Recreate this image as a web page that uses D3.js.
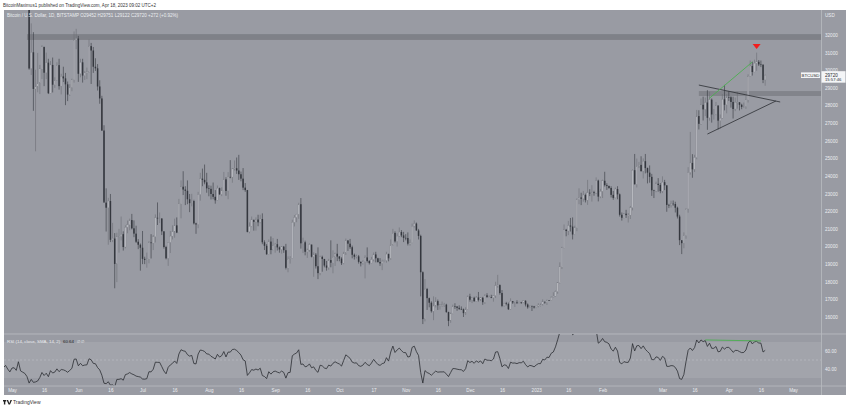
<!DOCTYPE html>
<html><head><meta charset="utf-8">
<script src="https://cdn.jsdelivr.net/npm/d3@7/dist/d3.min.js"></script>
<style>
html,body{margin:0;padding:0;background:#fff;}
svg{display:block;font-family:"Liberation Sans",Arial,sans-serif;}
</style></head>
<body>
<svg id="c" width="850" height="409"></svg>
<script>
// ---------------- DATA ----------------
// Closes before the first visible candle (used only to warm up the RSI), from 2022-03-01
const warmupStart = "2022-03-01";
const warmupCloses = [
44400,43900,42450,39150,39400,38400,38000,38740,41940,39420,38730,38810,37790,39670,39280,41120,40920,41760,42200,41260,41000,42360,42890,43960,44350,44500,46820,47130,47450,47060,45530,
46300,45800,46450,46620,45500,43200,43450,42300,42780,42150,39530,40080,41150,39940,40550,40400,39700,40800,41500,41360,40480,39710,39470,39450,40430,38120,39240,39740,38600,37630,
38470,38530,37720,39690,36550,36010,35470,34060
];
// Daily candles BTCUSD (Bitstamp) from 2022-05-09 to 2023-04-18; open = previous close
const candleStart = "2022-05-09";
const closes = [
30100,31020,28940,29050,29280,30080,31330,29860,30430,28700,30300,29180,29430,30290,29100,29650,29540,29200,28620,29030,29470,31720,31800,
29800,30450,29700,29860,29900,31370,31120,30200,30110,29080,28400,26580,22490,22200,22580,20380,20450,19010,20550,20570,20700,19970,21090,21230,21500,21030,20730,20270,20100,19930,
19300,19240,19300,20230,20190,20550,21630,21590,21590,20860,19970,19330,20230,20590,20830,21200,20790,22430,23390,23230,23160,22680,22460,22580,21310,21250,22950,23850,23780,23640,23300,
23270,22980,22820,22620,23310,22960,23170,23810,23150,23950,23940,24400,24440,24310,24100,23850,23340,23200,20830,21140,21520,21400,21530,21370,21560,20240,20040,19560,20280,19800,20050,
20130,19950,19830,19990,19790,18790,19290,19320,21370,21650,21830,22400,20180,20240,19700,19800,20110,19420,19540,18880,18490,19410,19290,18920,18800,19230,19080,19410,19590,19430,
19310,19050,19630,20340,20160,19960,19530,19420,19440,19130,19050,19150,19380,19180,19060,19260,19550,19330,19120,19040,19160,19200,19570,19330,20090,20770,20290,20590,20820,20630,20490,
20480,20160,20210,21150,21300,20910,20600,18540,15880,17590,17070,16810,16330,16620,16900,16660,16690,16690,16700,16280,15780,16190,16610,16600,16520,16460,16440,16220,16440,17170,
16980,17090,16890,17110,16970,17090,16840,17230,17130,17130,17090,17210,17780,17810,17360,16630,16780,16740,16440,16900,16820,16830,16780,16840,16830,16920,16710,16550,16630,16600,16540,
16620,16680,16680,16860,16830,16950,16940,17120,17180,17440,17940,18850,19930,20950,20880,21190,21130,20680,21070,22670,22780,22710,22920,22630,23050,23010,23080,23030,23740,22830,23130,
23730,23480,23430,23320,22930,22760,23260,22960,21800,21630,21860,21780,21780,22200,24330,23530,24570,24630,24280,24840,24450,24190,23950,23190,23160,23560,23490,23140,
23650,23470,22360,22350,22430,22410,22200,21700,20360,20190,20630,22130,24200,24740,24380,25050,27400,26960,28040,27780,28170,27300,28330,27490,27500,28000,27140,27280,28350,28040,28480,
28470,28200,27800,28180,28180,28040,27920,27950,28330,29650,30240,29900,30400,30480,30330,30320,29450,29720
];
const highs = [
34240,32660,32160,30030,30980,30300,31420,31300,31000,30650,30520,30720,29600,30450,30650,29800,30200,29850,29360,29210,29520,32200,32350,
31950,30650,30650,29950,30150,31750,31550,31320,30680,30350,29430,28550,26880,23300,22760,22980,21340,20760,20780,21000,21700,20860,21200,21470,21580,21850,21480,21180,20420,20170,
20880,19420,19650,20300,20700,20650,21820,22500,21930,21600,20860,20040,20250,20880,21200,21580,21650,22700,23750,24270,23420,23750,22980,22990,22650,21350,23100,24180,24420,24650,24180,
23470,23450,23630,23200,23460,23340,23360,24230,23930,24220,24900,24450,24880,25050,25200,24250,24450,23600,23210,21370,21700,21450,21650,21800,21800,21880,20350,20140,20400,20570,20480,
20200,20430,20000,20000,20030,20150,19440,19450,21520,21780,21850,22480,22750,20500,20330,19880,20180,20100,19670,19630,19950,19480,19480,19300,19180,19300,20350,19780,19650,20150,
19460,19390,19700,20450,20360,20430,20050,19600,19540,19520,19150,19220,19500,19950,19220,19410,19660,19700,19360,19340,19250,19250,19700,19600,20400,21000,20860,20750,21080,20930,20830,
20700,20800,20400,21300,21480,21360,21000,20670,18590,18150,17650,17100,16890,17170,17120,16990,16740,16880,16800,16750,16300,16250,16700,16780,16600,16660,16600,16480,16550,17220,
17320,17100,17150,17190,17420,17100,17140,17290,17350,17220,17260,17240,18000,18390,17850,17530,16800,16860,16820,17060,16900,16860,16950,16860,16860,16940,16950,16770,16660,16640,16630,
16630,16780,16770,17000,16880,16990,16960,17170,17400,17500,17980,19100,19980,21250,21000,21450,21620,21650,21180,22730,23300,23050,23150,23000,23780,23250,23480,23160,23920,23790,23270,
23790,24240,23590,23460,23420,23150,23340,23420,23010,21930,21900,22080,21900,22300,24370,25250,24990,24800,25120,25000,25250,24480,24600,24120,23220,23680,23880,23600,
23980,23780,23480,22420,22600,22610,22540,22260,21800,20300,20800,22160,24500,26500,25240,25200,27750,27730,28400,28500,28450,28870,28780,28400,27800,28200,28000,27490,28650,29170,28650,
28800,28530,28500,28450,28770,28190,28100,28170,28530,29770,30550,30480,30600,31000,30580,30550,30320,29751
];
const lows = [
30030,29730,27700,25400,28750,28650,29500,29100,29500,28650,28700,28740,29000,29400,28900,28630,29330,28020,28250,28540,28810,29300,31200,
29340,29600,29300,29450,29500,29880,29220,29850,29960,28850,28100,26560,22600,20850,20100,20250,20250,17630,17980,19650,20350,19770,19900,20750,20920,20970,20530,20200,19850,18630,
19000,19000,18800,19050,19320,19800,20230,21220,21330,20650,19880,19270,18900,19630,20400,20500,20760,20760,21600,22920,22350,22400,21950,22280,21250,20720,21040,22600,23420,23530,23050,
22850,22670,22680,22430,22600,22930,22860,23160,22880,22680,23870,23620,24310,24120,23780,23700,23200,23100,20800,20750,21100,20900,20900,21150,21320,20130,19800,19530,19560,19560,19800,
19650,19770,19650,19600,19640,18700,18540,19030,19300,21140,21380,21570,19880,19630,19500,19350,19700,19380,18280,18750,18150,18370,18570,18820,18630,18680,18820,18480,18900,19170,
19160,18950,19000,19520,19750,19860,19330,19260,19320,19030,18870,18970,18190,19090,18980,19060,19160,19100,19080,18900,18660,19110,19080,19160,19250,20060,20220,20000,20560,20530,20250,
20350,20060,20050,20190,21080,20900,20400,17170,15600,15750,16400,16550,16250,15820,16540,16400,16420,16580,16570,16240,15480,15670,16160,16460,16350,16400,16400,16000,16120,16440,
16870,16790,16880,16880,16880,16910,16690,16740,17090,17090,17070,16870,17080,17660,17270,16560,16590,16660,16400,16400,16740,16570,16760,16790,16740,16790,16600,16470,16510,16340,16480,
16500,16550,16600,16660,16750,16680,16910,16910,17100,17150,17320,17900,18720,19900,20580,20650,20850,20400,20650,20870,22400,22350,22540,22500,22360,22860,22550,22880,22990,22560,22740,
22750,23400,23210,23270,22780,22650,22740,22680,21700,21470,21600,21620,21360,21560,22050,23520,23350,24450,24240,23860,24150,23580,23620,22870,22750,23080,23110,23020,
23030,23200,21970,22180,22210,22310,21930,21590,20080,19570,19900,20440,21920,24080,23900,24230,24950,26640,26900,27150,27400,26620,27140,27030,27200,27450,26640,26670,27250,27720,27560,
28260,27880,27260,27680,27820,27720,27790,27880,27810,28170,29620,29700,29900,29970,30240,30180,29270,29122
];
// Axis ticks
const priceTicks = [16000,17000,18000,19000,20000,21000,22000,23000,24000,25000,26000,27000,28000,29000,30000,31000,32000];
const rsiTicks = [40,60];
const timeTickDates = ["2022-05-01","2022-05-16","2022-06-01","2022-06-16","2022-07-01","2022-07-16","2022-08-01","2022-08-16","2022-09-01","2022-09-16","2022-10-01","2022-10-17","2022-11-01","2022-11-16","2022-12-01","2022-12-16","2023-01-01","2023-01-16","2023-02-01","2023-03-01","2023-03-16","2023-04-01","2023-04-16","2023-05-01"];
const timeTickLabels = ["May","16","Jun","16","Jul","16","Aug","16","Sep","16","Oct","17","Nov","16","Dec","16","2023","16","Feb","Mar","16","Apr","16","May"];
// Drawings
const resistanceTop = [31720, 32050];     // price band
const resistanceTopStart = "2022-05-08";
const resistanceLow = [28540, 28820];
const resistanceLowStart = "2023-03-18";
const triUpper = [["2023-03-18", 29160], ["2023-04-25", 28200]];
const triLower = [["2023-03-22", 26380], ["2023-04-23", 28255]];
const divPrice = [["2023-03-23", 28420], ["2023-04-12", 30470]];
const divRsi = [["2023-03-21", 72.3], ["2023-04-16", 71.2]];
const topMarker = ["2023-04-14", 31200];
const lastOHLC = {o:29452, h:29751, l:29122, c:29720, chg:"+272 (+0.92%)"};
const rsiLabel = "60.64";

// ---------------- LAYOUT ----------------
const svg = d3.select("#c");
const parse = d3.utcParse("%Y-%m-%d");
const DAY = 86400000;
const L = 4, R = 846, AX = 821, T = 10, MB = 333.5, RT = 334, RB = 385.5, B = 395;
const BG = "#999ba3";

const x = d3.scaleUtc().domain([parse("2022-05-01"), parse("2023-05-01")]).range([12, 793]);
const y = d3.scaleLinear().domain([16000, 32000]).range([317, 35]);
const yr = d3.scaleLinear().domain([40, 60]).range([369, 351]);

// candles
const c0 = parse(candleStart).getTime();
const candles = closes.map((c, i) => ({
  d: new Date(c0 + i * DAY),
  o: i === 0 ? warmupCloses[warmupCloses.length - 1] : closes[i - 1],
  h: highs[i], l: lows[i], c: c
}));
// RSI (14, RMA) from closes
const allCloses = warmupCloses.concat(closes);
const w0 = parse(warmupStart).getTime();
const rsi = [];
{
  const n = 14; let ag = 0, al = 0;
  for (let i = 1; i < allCloses.length; i++) {
    const ch = allCloses[i] - allCloses[i - 1];
    const g = Math.max(ch, 0), l = Math.max(-ch, 0);
    if (i <= n) { ag += g / n; al += l / n; }
    else { ag = (ag * (n - 1) + g) / n; al = (al * (n - 1) + l) / n; }
    if (i >= n) rsi.push({d: new Date(w0 + i * DAY), v: al === 0 ? 100 : 100 - 100 / (1 + ag / al)});
  }
}

// background
svg.append("rect").attr("x", 0).attr("y", 0).attr("width", 850).attr("height", 409).attr("fill", "#fff");
svg.append("rect").attr("x", L).attr("y", T).attr("width", R - L).attr("height", B - T).attr("fill", BG);

const defs = svg.append("defs");
defs.append("clipPath").attr("id", "cm").append("rect").attr("x", L).attr("y", T).attr("width", AX - L).attr("height", MB - T);
defs.append("clipPath").attr("id", "cr").append("rect").attr("x", L).attr("y", RT).attr("width", AX - L).attr("height", RB - RT);

// main pane
const gm = svg.append("g").attr("clip-path", "url(#cm)");
gm.append("rect").attr("x", x(parse(resistanceTopStart))).attr("width", AX - x(parse(resistanceTopStart)))
  .attr("y", y(resistanceTop[1])).attr("height", y(resistanceTop[0]) - y(resistanceTop[1])).attr("fill", "#7f8188");
gm.append("rect").attr("x", x(parse(resistanceLowStart))).attr("width", AX - x(parse(resistanceLowStart)))
  .attr("y", y(resistanceLow[1])).attr("height", y(resistanceLow[0]) - y(resistanceLow[1])).attr("fill", "#82848b");

const UPB = "#b6b8be", UPW = "#6c6f76", DNB = "#34373e";
const cg = gm.append("g");
cg.selectAll("line").data(candles).join("line")
  .attr("x1", d => x(d.d)).attr("x2", d => x(d.d))
  .attr("y1", d => y(d.h)).attr("y2", d => y(d.l))
  .attr("stroke", d => d.c >= d.o ? UPW : DNB).attr("stroke-width", 0.6);
cg.selectAll("rect").data(candles).join("rect")
  .attr("x", d => x(d.d) - 0.75).attr("width", 1.5)
  .attr("y", d => y(Math.max(d.o, d.c)))
  .attr("height", d => Math.max(0.6, Math.abs(y(d.o) - y(d.c))))
  .attr("fill", d => d.c >= d.o ? UPB : DNB)
  .attr("stroke", d => d.c >= d.o ? "#80838a" : "none").attr("stroke-width", 0.3);

const line = d3.line().x(p => x(parse(p[0]))).y(p => y(p[1]));
gm.append("path").attr("d", line(triUpper)).attr("stroke", "#2c2e33").attr("stroke-width", 0.8).attr("fill", "none");
gm.append("path").attr("d", line(triLower)).attr("stroke", "#2c2e33").attr("stroke-width", 0.8).attr("fill", "none");
gm.append("path").attr("d", line(divPrice)).attr("stroke", "#4caf50").attr("stroke-width", 0.9).attr("fill", "none");
{
  const mx = x(parse(topMarker[0])), my = y(topMarker[1]);
  gm.append("path").attr("d", `M${mx - 4},${my - 5}L${mx + 4},${my - 5}L${mx},${my}Z`).attr("fill", "#f21d1d");
}

// RSI pane
const gr = svg.append("g");
gr.append("line").attr("x1", L).attr("x2", R).attr("y1", MB + 0.5).attr("y2", MB + 0.5).attr("stroke", "#b4b6bc").attr("stroke-width", 1);
const grc = gr.append("g").attr("clip-path", "url(#cr)");
grc.append("rect").attr("x", L).attr("width", AX - L).attr("y", yr(70)).attr("height", yr(30) - yr(70)).attr("fill", "#a2a4ab");
grc.append("line").attr("x1", L).attr("x2", AX).attr("y1", yr(50)).attr("y2", yr(50))
  .attr("stroke", "#bfc1c6").attr("stroke-width", 0.6).attr("stroke-dasharray", "2,2");
const rsiVis = rsi.filter(p => p.d >= parse("2022-04-25"));
grc.append("path").datum(rsiVis)
  .attr("d", d3.line().x(p => x(p.d)).y(p => yr(p.v)))
  .attr("fill", "none").attr("stroke", "#2b2d32").attr("stroke-width", 0.8);
grc.append("path").attr("d", d3.line().x(p => x(parse(p[0]))).y(p => yr(p[1]))(divRsi))
  .attr("stroke", "#4caf50").attr("stroke-width", 0.9).attr("fill", "none");

// axes separators
svg.append("line").attr("x1", AX + 0.5).attr("x2", AX + 0.5).attr("y1", T).attr("y2", B).attr("stroke", "#b9bbc0").attr("stroke-width", 0.8);
svg.append("line").attr("x1", L).attr("x2", R).attr("y1", RB + 0.5).attr("y2", RB + 0.5).attr("stroke", "#b9bbc0").attr("stroke-width", 0.8);

const TXT = "#eceef1";
const ay = d3.axisRight(y).tickValues(priceTicks).tickSize(0).tickPadding(0).tickFormat(d3.format("d"));
const gay = svg.append("g").attr("transform", `translate(${AX + 4},0)`).call(ay);
const ary = d3.axisRight(yr).tickValues(rsiTicks).tickSize(0).tickPadding(0).tickFormat(d3.format(".2f"));
const gary = svg.append("g").attr("transform", `translate(${AX + 4},0)`).call(ary);
const ax = d3.axisBottom(x).tickValues(timeTickDates.map(parse)).tickSize(0).tickPadding(0)
  .tickFormat((d, i) => timeTickLabels[i]);
const gax = svg.append("g").attr("transform", `translate(0,${RB + 3})`).call(ax);
[gay, gary, gax].forEach(g => {
  g.select(".domain").remove();
  g.selectAll("text").attr("fill", TXT).style("font-size", "4.6px").style("font-family", "'Liberation Sans',Arial,sans-serif");
});
gax.selectAll("text").attr("dy", "0.71em");
svg.append("text").attr("x", AX + 4).attr("y", 16.5).text("USD").attr("fill", TXT).style("font-size", "4.6px");

// last price labels
{
  const py = y(lastOHLC.c);
  svg.append("rect").attr("x", 801).attr("y", py - 2.8).attr("width", 19).attr("height", 5.6).attr("fill", "#f4f5f7");
  svg.append("text").attr("x", 810.5).attr("y", py + 1.6).attr("text-anchor", "middle").text("BTCUSD").attr("fill", "#2a2c31").style("font-size", "4.4px");
  svg.append("rect").attr("x", AX + 0.5).attr("y", py - 4).attr("width", 24).attr("height", 11.5).attr("fill", "#f4f5f7");
  svg.append("text").attr("x", AX + 4).attr("y", py + 1.5).text(String(lastOHLC.c)).attr("fill", "#2a2c31").style("font-size", "4.6px");
  svg.append("text").attr("x", AX + 4).attr("y", py + 6.3).text("15:57:46").attr("fill", "#2a2c31").style("font-size", "4.2px");
}

// header texts
svg.append("text").attr("x", 3).attr("y", 7).text("BitcoinMaximus1 published on TradingView.com, Apr 18, 2023 09:02 UTC+2")
  .attr("fill", "#333").style("font-size", "4.8px").attr("textLength", 153).attr("lengthAdjust", "spacingAndGlyphs");
const ht = svg.append("text").attr("x", 7).attr("y", 17).attr("fill", TXT).style("font-size", "4.6px")
  .attr("textLength", 171).attr("lengthAdjust", "spacingAndGlyphs");
ht.append("tspan").text("Bitcoin / U.S. Dollar, 1D, BITSTAMP  O");
ht.append("tspan").text(lastOHLC.o);
ht.append("tspan").text("  H" + lastOHLC.h);
ht.append("tspan").text("  L" + lastOHLC.l);
ht.append("tspan").text("  C" + lastOHLC.c);
ht.append("tspan").text("  " + lastOHLC.chg);

// RSI label
svg.append("text").attr("x", 7).attr("y", 342.5).text("RSI (14, close, SMA, 14, 2)").attr("fill", TXT).style("font-size", "4.4px");
svg.append("text").attr("x", 63).attr("y", 342.5).text(rsiLabel).attr("fill", "#222").style("font-size", "4.4px");
svg.append("text").attr("x", 77).attr("y", 342.5).text("\u2205  \u2205").attr("fill", TXT).style("font-size", "4.4px");

// TradingView footer
const ft = svg.append("g").attr("transform", "translate(3,400)");
ft.append("path").attr("d", "M0,0h3.2v1.4h-0.9v3.2h-1.4v-3.2h-0.9z M3.6,0h1.5l1.2,3.2l1.2,-3.2h1.5l-2,4.6h-1.4z").attr("fill", "#222");
ft.append("text").attr("x", 10).attr("y", 4.3).text("TradingView").attr("fill", "#333").style("font-size", "5px");
</script>
</body></html>
